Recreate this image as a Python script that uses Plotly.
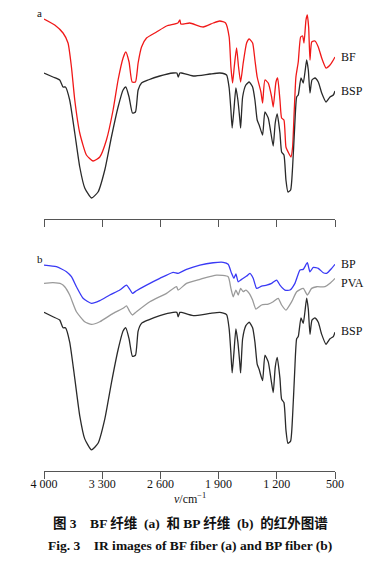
import plotly.graph_objects as go

# ---------------- data (wavenumber cm-1, relative transmittance, arbitrary units) -------------
bf_wn = [4000, 3871, 3771, 3711, 3670, 3630, 3570, 3490, 3410, 3329, 3249, 3169, 3109, 3049, 3016,
         2977, 2940, 2900, 2868, 2827, 2767, 2647, 2526, 2390, 2366, 2354, 2246, 2086, 1965, 1885,
         1816, 1773, 1752, 1732, 1712, 1684, 1660, 1635, 1604, 1563, 1532, 1491, 1463, 1436, 1391,
         1371, 1343, 1303, 1262, 1243, 1210, 1190, 1162, 1142, 1114, 1090, 1058, 1030, 1010, 990,
         970, 942, 913, 889, 873, 849, 833, 817, 801, 780, 741, 701, 660, 608, 560, 520, 500]
bf_t = [211, 205, 197, 187, 163, 130, 97, 75, 69, 73, 90, 120, 150, 172, 178,
        168, 148, 148, 167, 183, 192, 198, 204, 207, 210, 206, 207, 203, 207, 209,
        207, 193, 163, 147, 163, 182, 163, 148, 167, 187, 191, 187, 170, 153, 138,
        127, 150, 147, 133, 123, 148, 152, 130, 112, 110, 83, 77, 73, 83, 120,
        153, 168, 193, 194, 187, 210, 215, 203, 170, 188, 189, 183, 172, 162, 165, 170, 173]

bsp_wn = [4000, 3892, 3811, 3771, 3742, 3691, 3630, 3570, 3510, 3429, 3350, 3269, 3189, 3109, 3049,
          3016, 2977, 2936, 2900, 2868, 2827, 2748, 2607, 2447, 2402, 2386, 2366, 2346, 2206, 2005,
          1885, 1804, 1773, 1752, 1737, 1716, 1692, 1668, 1644, 1635, 1611, 1572, 1532, 1491, 1463,
          1436, 1412, 1371, 1343, 1303, 1271, 1243, 1219, 1195, 1162, 1142, 1114, 1090, 1066, 1034,
          1010, 985, 961, 942, 909, 882, 861, 841, 821, 801, 777, 741, 701, 660, 608, 560, 520, 500]
bsp_t = [157, 153, 150, 143, 143, 130, 97, 63, 42, 32, 38, 60, 93, 123, 140,
         143, 133, 117, 118, 140, 147, 150, 154, 157, 157, 153, 157, 157, 154, 156,
         157, 155, 142, 120, 102, 120, 142, 130, 110, 102, 133, 145, 148, 143, 130,
         110, 105, 95, 118, 112, 97, 84, 107, 116, 97, 78, 75, 50, 38, 40,
         63, 103, 133, 135, 152, 147, 158, 170, 160, 137, 150, 152, 148, 137, 128, 133, 135, 139]

bp_wn = [4000, 3851, 3730, 3670, 3610, 3530, 3429, 3329, 3209, 3089, 3008, 2968, 2936, 2888, 2767,
         2607, 2447, 2386, 2286, 2125, 1965, 1845, 1785, 1744, 1716, 1692, 1664, 1623, 1563, 1523,
         1484, 1443, 1383, 1322, 1262, 1202, 1162, 1102, 1042, 982, 921, 882, 833, 801, 761,
         701, 641, 600, 540, 500]
bp_t = [200.0, 198.5, 194.0, 189.4, 180.3, 169.8, 165.2, 167.6, 172.8, 177.3, 181.8, 177.9, 174.3, 176.7, 181.8,
        187.9, 193.4, 192.5, 196.1, 200.0, 202.1, 202.5, 200.7, 192.5, 188.0, 191.9, 184.8, 187.0, 190.0, 192.5,
        188.0, 178.8, 180.9, 181.8, 183.4, 186.4, 181.8, 177.3, 177.3, 183.4, 195.5, 196.1, 202.1, 193.9, 197.9,
        197.0, 193.0, 192.5, 197.0, 200.7]

pva_wn = [4000, 3892, 3791, 3751, 3691, 3610, 3510, 3429, 3329, 3169, 3049, 3008, 2968, 2936, 2888,
          2727, 2526, 2406, 2386, 2286, 2125, 1924, 1785, 1752, 1724, 1692, 1664, 1635, 1604, 1572,
          1532, 1491, 1451, 1383, 1303, 1243, 1183, 1142, 1090, 1021, 961, 882, 833, 781, 720,
          620, 560, 500]
pva_t = [183.4, 184.0, 182.8, 180.3, 172.8, 157.6, 148.5, 146.1, 148.5, 156.1, 160.7, 162.8, 157.6, 154.6, 157.6,
         166.7, 174.3, 180.3, 177.3, 183.4, 187.0, 190.9, 189.4, 178.8, 171.2, 177.3, 172.8, 178.8, 175.8, 177.3,
         174.3, 168.2, 160.0, 163.7, 164.6, 166.7, 169.8, 163.7, 159.1, 166.7, 175.8, 178.8, 172.8, 178.8, 180.3,
         180.3, 183.4, 187.9]

tick_vals = [4000, 3300, 2600, 1900, 1200, 500]
tick_text = ["4 000", "3 300", "2 600", "1 900", "1 200", "500"]

# ---------------- figure ----------------
SERIF = "Liberation Serif, Times New Roman, serif"
OFF = 8                      # default page body margin
W, H = 384 - OFF, 575 - OFF
L, R = 44 - OFF, 49
PW = W - L - R
fig = go.Figure()

def add(x, y, color, xa, ya, width=1.3):
    fig.add_trace(go.Scatter(x=x, y=y, mode="lines",
                             line=dict(color=color, width=width, shape="spline", smoothing=0.5),
                             xaxis=xa, yaxis=ya, showlegend=False, hoverinfo="skip"))

# panel a (top)
add(bf_wn, bf_t, "#f01818", "x2", "y2")
add(bsp_wn, bsp_t, "#2a2a2a", "x2", "y2")
# panel b (bottom)
add(bp_wn, bp_t, "#3a3af5", "x", "y")
add(pva_wn, pva_t, "#9a9a9a", "x", "y")
add(bsp_wn, bsp_t, "#2a2a2a", "x", "y")

def py(px):
    return 1 - (px - OFF) / H

axis_common = dict(range=[4000, 500], tickvals=tick_vals, ticks="outside", ticklen=7,
                   tickcolor="#555", showline=True, linecolor="#555", linewidth=1,
                   showgrid=False, zeroline=False, domain=[0, 1])

fig.update_layout(
    width=W, height=H,
    margin=dict(l=L, r=R, t=0, b=0),
    paper_bgcolor="white", plot_bgcolor="white",
    xaxis=dict(**axis_common, anchor="y", ticktext=tick_text, ticklabelstandoff=-5,
               tickfont=dict(family=SERIF, size=12, color="#111")),
    xaxis2=dict(**axis_common, anchor="y2", showticklabels=False, matches="x"),
    yaxis=dict(domain=[py(471), py(250)], range=[12.8, 213.7], visible=False),
    yaxis2=dict(domain=[py(219), py(8)], range=[11, 222], visible=False),
)

def add_px(xpx, ypx, s, size=12, xanchor="left"):
    fig.add_annotation(x=(xpx - 44) / PW, y=py(ypx), xref="paper", yref="paper",
                       text=s, showarrow=False, xanchor=xanchor, yanchor="middle",
                       font=dict(family=SERIF + ", Noto Sans CJK SC", size=size, color="#111"))

add_px(35, 13, "a", 11)
add_px(35, 259, "b", 11)
add_px(339, 57, "BF", 12)
add_px(339, 91, "BSP", 12)
add_px(339, 264, "BP", 12)
add_px(339, 283, "PVA", 12)
add_px(339, 331, "BSP", 12)
add_px(190, 498, "<i>ν</i>/cm<sup>−1</sup>", 12, "center")
add_px(190, 523, "<b>图 3　BF 纤维  (a)  和 BP 纤维  (b)  的红外图谱</b>", 13.5, "center")
add_px(190, 545, "<b>Fig. 3　IR images of BF fiber (a) and BP fiber (b)</b>", 13.5, "center")

fig.write_html("out.html")
